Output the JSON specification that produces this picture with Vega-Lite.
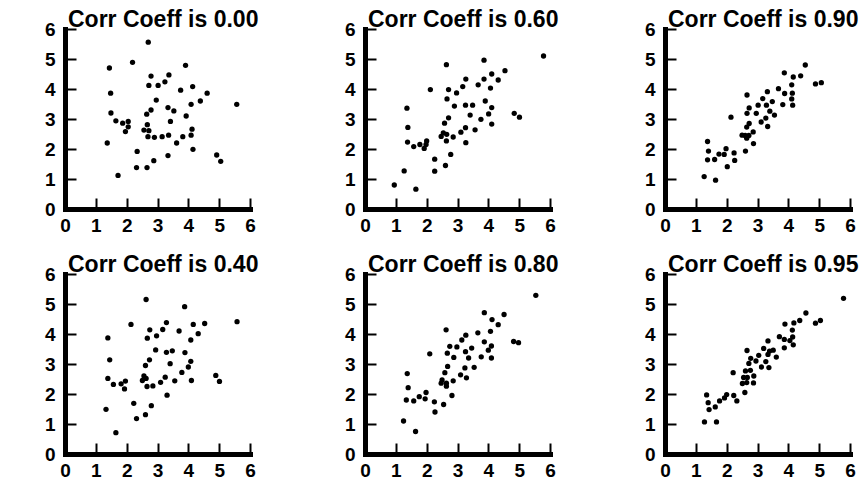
{
  "$schema": "https://vega.github.io/schema/vega-lite/v6.json",
  "background": "white",
  "padding": {"left": 44, "top": 9, "right": 5, "bottom": 5},
  "datasets": {
    "p000": [
      {"x":2.70,"y":5.56},{"x":2.19,"y":4.89},{"x":1.44,"y":4.70},{"x":3.91,"y":4.79},{"x":2.79,"y":4.43},
      {"x":3.37,"y":4.47},{"x":3.24,"y":4.24},{"x":2.72,"y":4.12},{"x":3.02,"y":4.12},{"x":3.75,"y":3.96},
      {"x":4.14,"y":4.08},{"x":4.61,"y":3.86},{"x":1.48,"y":3.86},{"x":2.96,"y":3.63},{"x":4.39,"y":3.60},
      {"x":4.09,"y":3.49},{"x":5.57,"y":3.49},{"x":3.34,"y":3.38},{"x":3.53,"y":3.27},{"x":2.79,"y":3.30},
      {"x":2.65,"y":3.16},{"x":1.49,"y":3.20},{"x":3.93,"y":3.10},{"x":1.65,"y":2.94},{"x":1.87,"y":2.86},
      {"x":2.05,"y":2.92},{"x":2.05,"y":2.74},{"x":3.42,"y":2.92},{"x":2.67,"y":2.81},{"x":2.56,"y":2.63},
      {"x":2.72,"y":2.61},{"x":1.96,"y":2.58},{"x":4.12,"y":2.66},{"x":2.69,"y":2.41},{"x":2.90,"y":2.39},
      {"x":3.15,"y":2.41},{"x":3.36,"y":2.46},{"x":3.82,"y":2.41},{"x":4.09,"y":2.46},{"x":1.37,"y":2.20},
      {"x":3.62,"y":2.20},{"x":4.15,"y":1.99},{"x":2.34,"y":1.92},{"x":3.34,"y":1.78},{"x":4.92,"y":1.80},
      {"x":5.05,"y":1.59},{"x":2.88,"y":1.61},{"x":2.32,"y":1.38},{"x":2.66,"y":1.38},{"x":1.72,"y":1.12}
    ],
    "p060": [
      {"x":5.79,"y":5.10},{"x":2.64,"y":4.81},{"x":3.86,"y":4.96},{"x":4.54,"y":4.61},{"x":4.11,"y":4.50},
      {"x":3.27,"y":4.33},{"x":3.86,"y":4.33},{"x":4.32,"y":4.30},{"x":3.67,"y":4.14},{"x":3.17,"y":4.08},
      {"x":2.12,"y":3.98},{"x":2.71,"y":3.98},{"x":4.07,"y":4.03},{"x":2.97,"y":3.87},{"x":2.66,"y":3.67},
      {"x":3.90,"y":3.60},{"x":1.36,"y":3.36},{"x":2.90,"y":3.43},{"x":3.26,"y":3.46},{"x":3.49,"y":3.46},
      {"x":4.11,"y":3.38},{"x":3.41,"y":3.13},{"x":4.01,"y":3.17},{"x":4.84,"y":3.19},{"x":5.01,"y":3.06},
      {"x":2.71,"y":3.04},{"x":3.76,"y":2.99},{"x":2.58,"y":2.86},{"x":4.11,"y":2.83},{"x":1.39,"y":2.72},
      {"x":3.26,"y":2.71},{"x":3.57,"y":2.64},{"x":3.11,"y":2.56},{"x":2.54,"y":2.54},{"x":2.65,"y":2.49},
      {"x":2.47,"y":2.42},{"x":2.86,"y":2.40},{"x":2.64,"y":2.27},{"x":1.38,"y":2.23},{"x":3.27,"y":2.21},
      {"x":2.00,"y":2.27},{"x":1.98,"y":2.15},{"x":1.78,"y":2.15},{"x":1.58,"y":2.08},{"x":1.92,"y":2.02},
      {"x":2.78,"y":1.82},{"x":2.26,"y":1.66},{"x":2.61,"y":1.45},{"x":2.26,"y":1.26},{"x":1.27,"y":1.27},
      {"x":0.95,"y":0.80},{"x":1.65,"y":0.66}
    ],
    "p090": [
      {"x":4.55,"y":4.80},{"x":3.87,"y":4.54},{"x":4.40,"y":4.44},{"x":4.16,"y":4.40},{"x":4.88,"y":4.17},
      {"x":5.07,"y":4.21},{"x":4.11,"y":4.14},{"x":3.68,"y":4.01},{"x":4.13,"y":3.86},{"x":3.88,"y":3.85},
      {"x":2.66,"y":3.80},{"x":3.32,"y":3.91},{"x":3.17,"y":3.68},{"x":3.48,"y":3.58},{"x":4.11,"y":3.67},
      {"x":3.82,"y":3.48},{"x":4.14,"y":3.46},{"x":2.73,"y":3.37},{"x":3.02,"y":3.46},{"x":3.29,"y":3.46},
      {"x":3.40,"y":3.26},{"x":2.66,"y":3.19},{"x":2.96,"y":3.19},{"x":3.55,"y":3.13},{"x":2.14,"y":3.06},
      {"x":3.27,"y":3.03},{"x":3.12,"y":2.90},{"x":2.73,"y":2.85},{"x":3.33,"y":2.75},{"x":2.65,"y":2.73},
      {"x":2.86,"y":2.57},{"x":2.50,"y":2.46},{"x":2.60,"y":2.45},{"x":2.72,"y":2.45},{"x":2.65,"y":2.36},
      {"x":2.87,"y":2.18},{"x":1.38,"y":2.25},{"x":1.41,"y":1.93},{"x":1.98,"y":2.01},{"x":2.24,"y":1.87},
      {"x":1.75,"y":1.83},{"x":1.92,"y":1.82},{"x":2.61,"y":1.93},{"x":1.38,"y":1.64},{"x":1.61,"y":1.65},
      {"x":2.26,"y":1.62},{"x":2.02,"y":1.41},{"x":1.27,"y":1.08},{"x":1.64,"y":0.96}
    ],
    "p040": [
      {"x":2.63,"y":5.15},{"x":3.88,"y":4.91},{"x":2.14,"y":4.32},{"x":3.29,"y":4.38},{"x":4.16,"y":4.32},
      {"x":4.53,"y":4.35},{"x":5.58,"y":4.41},{"x":2.75,"y":4.14},{"x":3.17,"y":4.15},{"x":3.70,"y":4.10},
      {"x":4.32,"y":4.01},{"x":2.97,"y":3.94},{"x":2.67,"y":3.86},{"x":1.39,"y":3.87},{"x":4.08,"y":3.80},
      {"x":2.94,"y":3.47},{"x":3.29,"y":3.39},{"x":3.48,"y":3.44},{"x":3.89,"y":3.38},{"x":1.45,"y":3.14},
      {"x":2.74,"y":3.14},{"x":3.41,"y":3.01},{"x":4.08,"y":3.09},{"x":2.61,"y":2.95},{"x":4.00,"y":2.90},
      {"x":3.79,"y":2.72},{"x":4.89,"y":2.62},{"x":1.39,"y":2.52},{"x":2.56,"y":2.60},{"x":2.63,"y":2.52},
      {"x":2.51,"y":2.45},{"x":3.25,"y":2.56},{"x":3.56,"y":2.44},{"x":4.10,"y":2.45},{"x":5.01,"y":2.42},
      {"x":1.57,"y":2.32},{"x":1.96,"y":2.43},{"x":1.82,"y":2.34},{"x":3.10,"y":2.39},{"x":2.66,"y":2.25},
      {"x":2.85,"y":2.27},{"x":1.93,"y":2.17},{"x":3.31,"y":1.96},{"x":2.23,"y":1.69},{"x":2.80,"y":1.61},
      {"x":1.33,"y":1.49},{"x":2.61,"y":1.31},{"x":2.32,"y":1.18},{"x":1.65,"y":0.71}
    ],
    "p080": [
      {"x":5.54,"y":5.29},{"x":3.87,"y":4.71},{"x":4.51,"y":4.65},{"x":4.12,"y":4.48},{"x":4.32,"y":4.31},
      {"x":2.63,"y":4.14},{"x":3.27,"y":3.96},{"x":3.66,"y":4.04},{"x":4.07,"y":4.09},{"x":3.14,"y":3.80},
      {"x":2.75,"y":3.59},{"x":2.98,"y":3.57},{"x":3.87,"y":3.74},{"x":4.82,"y":3.75},{"x":4.98,"y":3.71},
      {"x":3.46,"y":3.53},{"x":4.10,"y":3.60},{"x":2.67,"y":3.36},{"x":3.26,"y":3.41},{"x":4.00,"y":3.46},
      {"x":3.36,"y":3.20},{"x":2.88,"y":3.22},{"x":3.77,"y":3.24},{"x":4.10,"y":3.20},{"x":2.10,"y":3.34},
      {"x":2.68,"y":2.92},{"x":3.24,"y":2.87},{"x":3.54,"y":2.89},{"x":1.37,"y":2.68},{"x":2.59,"y":2.71},
      {"x":3.10,"y":2.64},{"x":3.29,"y":2.54},{"x":2.50,"y":2.47},{"x":2.86,"y":2.44},{"x":2.47,"y":2.36},
      {"x":2.64,"y":2.36},{"x":2.64,"y":2.26},{"x":1.40,"y":2.21},{"x":1.98,"y":2.05},{"x":2.82,"y":1.95},
      {"x":1.76,"y":1.91},{"x":1.34,"y":1.80},{"x":1.58,"y":1.77},{"x":1.95,"y":1.84},{"x":2.25,"y":1.74},
      {"x":2.55,"y":1.65},{"x":2.27,"y":1.40},{"x":1.25,"y":1.10},{"x":1.64,"y":0.75}
    ],
    "p095": [
      {"x":5.79,"y":5.19},{"x":4.57,"y":4.70},{"x":4.37,"y":4.45},{"x":4.18,"y":4.37},{"x":3.89,"y":4.33},
      {"x":5.04,"y":4.45},{"x":4.88,"y":4.36},{"x":4.13,"y":4.13},{"x":3.71,"y":3.91},{"x":4.14,"y":3.90},
      {"x":3.87,"y":3.82},{"x":4.05,"y":3.78},{"x":3.34,"y":3.77},{"x":4.16,"y":3.64},{"x":3.87,"y":3.54},
      {"x":3.20,"y":3.52},{"x":2.66,"y":3.45},{"x":3.39,"y":3.43},{"x":3.51,"y":3.46},{"x":3.34,"y":3.32},
      {"x":3.61,"y":3.23},{"x":3.04,"y":3.29},{"x":2.78,"y":3.19},{"x":2.72,"y":3.02},{"x":2.95,"y":3.10},
      {"x":3.27,"y":3.08},{"x":3.37,"y":2.88},{"x":3.13,"y":2.90},{"x":2.21,"y":2.71},{"x":2.61,"y":2.77},
      {"x":2.77,"y":2.79},{"x":2.88,"y":2.60},{"x":2.67,"y":2.55},{"x":2.55,"y":2.55},{"x":2.51,"y":2.35},
      {"x":2.65,"y":2.38},{"x":2.87,"y":2.37},{"x":2.59,"y":2.05},{"x":2.00,"y":1.98},{"x":1.35,"y":1.97},
      {"x":1.40,"y":1.71},{"x":2.23,"y":1.95},{"x":2.33,"y":1.77},{"x":1.93,"y":1.87},{"x":1.77,"y":1.77},
      {"x":1.63,"y":1.57},{"x":1.43,"y":1.48},{"x":1.28,"y":1.07},{"x":1.67,"y":1.07}
    ]
  },
  "columns": 3,
  "bounds": "flush",
  "spacing": {"column": 115, "row": 65},
  "concat": [
    {"title": "Corr Coeff is 0.00", "data": {"name": "p000"}, "width": 185, "height": 180, "mark": {"type": "circle", "color": "black", "opacity": 1, "size": 28},
     "encoding": {"x": {"field": "x", "type": "quantitative", "scale": {"domain": [0, 6], "nice": false}, "axis": {"values": [0,1,2,3,4,5,6], "domainWidth": 5, "tickWidth": 2, "tickSize": -11, "labelPadding": 18}},
                  "y": {"field": "y", "type": "quantitative", "scale": {"domain": [0, 6], "nice": false}, "axis": {"values": [0,1,2,3,4,5,6], "domainWidth": 5, "tickWidth": 2, "tickSize": -11, "labelPadding": 21}}}},
    {"title": "Corr Coeff is 0.60", "data": {"name": "p060"}, "width": 185, "height": 180, "mark": {"type": "circle", "color": "black", "opacity": 1, "size": 28},
     "encoding": {"x": {"field": "x", "type": "quantitative", "scale": {"domain": [0, 6], "nice": false}, "axis": {"values": [0,1,2,3,4,5,6], "domainWidth": 5, "tickWidth": 2, "tickSize": -11, "labelPadding": 18}},
                  "y": {"field": "y", "type": "quantitative", "scale": {"domain": [0, 6], "nice": false}, "axis": {"values": [0,1,2,3,4,5,6], "domainWidth": 5, "tickWidth": 2, "tickSize": -11, "labelPadding": 21}}}},
    {"title": "Corr Coeff is 0.90", "data": {"name": "p090"}, "width": 185, "height": 180, "mark": {"type": "circle", "color": "black", "opacity": 1, "size": 28},
     "encoding": {"x": {"field": "x", "type": "quantitative", "scale": {"domain": [0, 6], "nice": false}, "axis": {"values": [0,1,2,3,4,5,6], "domainWidth": 5, "tickWidth": 2, "tickSize": -11, "labelPadding": 18}},
                  "y": {"field": "y", "type": "quantitative", "scale": {"domain": [0, 6], "nice": false}, "axis": {"values": [0,1,2,3,4,5,6], "domainWidth": 5, "tickWidth": 2, "tickSize": -11, "labelPadding": 21}}}},
    {"title": "Corr Coeff is 0.40", "data": {"name": "p040"}, "width": 185, "height": 180, "mark": {"type": "circle", "color": "black", "opacity": 1, "size": 28},
     "encoding": {"x": {"field": "x", "type": "quantitative", "scale": {"domain": [0, 6], "nice": false}, "axis": {"values": [0,1,2,3,4,5,6], "domainWidth": 5, "tickWidth": 2, "tickSize": -11, "labelPadding": 18}},
                  "y": {"field": "y", "type": "quantitative", "scale": {"domain": [0, 6], "nice": false}, "axis": {"values": [0,1,2,3,4,5,6], "domainWidth": 5, "tickWidth": 2, "tickSize": -11, "labelPadding": 21}}}},
    {"title": "Corr Coeff is 0.80", "data": {"name": "p080"}, "width": 185, "height": 180, "mark": {"type": "circle", "color": "black", "opacity": 1, "size": 28},
     "encoding": {"x": {"field": "x", "type": "quantitative", "scale": {"domain": [0, 6], "nice": false}, "axis": {"values": [0,1,2,3,4,5,6], "domainWidth": 5, "tickWidth": 2, "tickSize": -11, "labelPadding": 18}},
                  "y": {"field": "y", "type": "quantitative", "scale": {"domain": [0, 6], "nice": false}, "axis": {"values": [0,1,2,3,4,5,6], "domainWidth": 5, "tickWidth": 2, "tickSize": -11, "labelPadding": 21}}}},
    {"title": "Corr Coeff is 0.95", "data": {"name": "p095"}, "width": 185, "height": 180, "mark": {"type": "circle", "color": "black", "opacity": 1, "size": 28},
     "encoding": {"x": {"field": "x", "type": "quantitative", "scale": {"domain": [0, 6], "nice": false}, "axis": {"values": [0,1,2,3,4,5,6], "domainWidth": 5, "tickWidth": 2, "tickSize": -11, "labelPadding": 18}},
                  "y": {"field": "y", "type": "quantitative", "scale": {"domain": [0, 6], "nice": false}, "axis": {"values": [0,1,2,3,4,5,6], "domainWidth": 5, "tickWidth": 2, "tickSize": -11, "labelPadding": 21}}}}
  ],
  "config": {
    "view": {"stroke": null},
    "axis": {"grid": false, "title": null, "domainColor": "black", "domainOpacity": 1, "domainWidth": 5, "domainCap": "square", "tickColor": "black", "tickOpacity": 1, "tickWidth": 2, "tickSize": -11,
             "labelFont": "Liberation Sans", "labelFontWeight": "bold", "labelFontSize": 19, "labelColor": "black", "labelFlush": false, "labelOverlap": false},
    "title": {"anchor": "start", "frame": "group", "dx": 3, "font": "Liberation Sans", "fontSize": 23, "fontWeight": "bold", "color": "black", "offset": -12}
  }
}
